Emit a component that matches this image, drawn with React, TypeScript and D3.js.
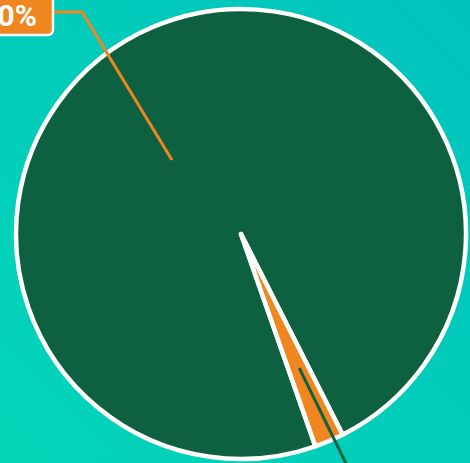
import React from 'react';
import * as d3 from 'd3';

// slice data
const categories = ['Green', 'Orange'];
const values = [97.9, 2.1];
const colors = ['#0e6140', '#f0861f'];

// where each leader line starts / ends (angle in degrees, fraction of radius)
const leaderAngles = [-43, 156.5];
const leaderRadii = [0.45, 0.65];
const leaderEndAngle = 155.4;
const leaderEndRadius = 1.13;

const App = () => {
  const w = 470;
  const h = 463;
  const cx = 241;
  const cy = 234;
  const r = 225;

  const total = d3.sum(values);
  const start = (-199.3 * Math.PI) / 180;
  const pie = d3.pie<number>().sort(null).startAngle(start).endAngle(start + 2 * Math.PI);
  const arcs = pie(values);
  const arc = d3.arc<d3.PieArcDatum<number>>().innerRadius(0).outerRadius(r);

  const pt = (deg: number, frac: number) => {
    const a = (deg * Math.PI) / 180;
    return [Math.sin(a) * r * frac, -Math.cos(a) * r * frac];
  };

  const fmt = d3.format('.2%');
  const line = d3.line();

  // orange label, top-left
  const p0 = pt(leaderAngles[0], leaderRadii[0]);
  const orangeLine = line([
    [p0[0], p0[1]],
    [82 - cx, 12 - cy],
    [53 - cx, 12 - cy],
  ]);
  // green label leader, runs off the bottom
  const p1 = pt(leaderAngles[1], leaderRadii[1]);
  const p1b = pt(leaderEndAngle, leaderEndRadius);
  const greenLine = line([
    [p1[0], p1[1]],
    [p1b[0], p1b[1]],
  ]);

  return (
    <svg width={w} height={h} style={{ position: 'absolute', left: 0, top: 0 }}>
      <defs>
        <linearGradient id="bg" x1="1" y1="0" x2="0" y2="1">
          <stop offset="0%" stopColor="#00c3bd" />
          <stop offset="100%" stopColor="#03d5b8" />
        </linearGradient>
      </defs>
      <rect width={w} height={h} fill="url(#bg)" />
      <g transform={`translate(${cx},${cy})`}>
        {arcs.map((d, i) => (
          <path key={categories[i]} d={arc(d) || ''} fill={colors[i]} stroke="#fff" strokeWidth={4.5} strokeLinejoin="round" />
        ))}
        <path d={orangeLine || ''} fill="none" stroke={colors[1]} strokeWidth={3} />
        <path d={greenLine || ''} fill="none" stroke={colors[0]} strokeWidth={3} />
      </g>
      <rect x={-60} y={-8} width={113} height={43} rx={5} fill={colors[1]} stroke="#fff" strokeWidth={2.5} />
      <text x={37} y={26} textAnchor="end" fill="#fff" fontFamily="Roboto, sans-serif" fontWeight="bold" fontSize={30}>
        {fmt(values[1] / total)}
      </text>
    </svg>
  );
};

export default App;
